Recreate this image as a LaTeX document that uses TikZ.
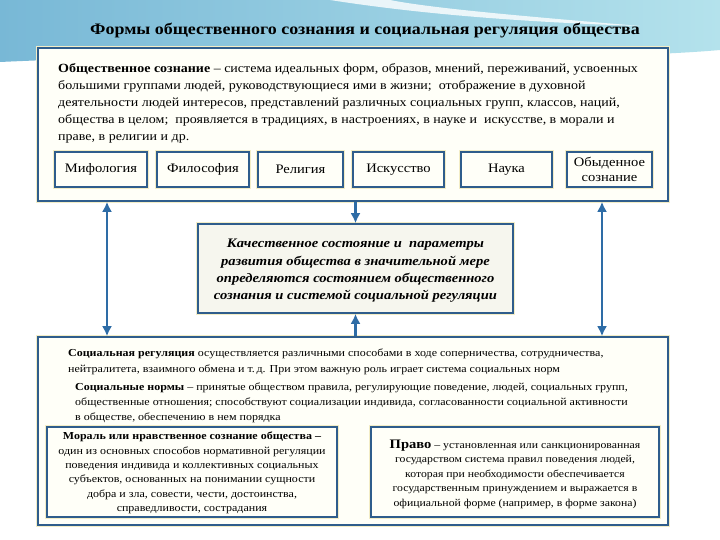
\documentclass[tikz,border=0pt]{standalone}
\usepackage{fontspec}
\setmainfont{Liberation Serif}[FakeStretch=1.12]
\usetikzlibrary{arrows.meta}
\definecolor{boxblue}{HTML}{2F5D8C}
\definecolor{arrblue}{HTML}{2E6CA6}
\definecolor{creamfill}{HTML}{FFFFF8}
\definecolor{midfill}{HTML}{F6F6EE}
\definecolor{glow}{HTML}{F3EDC6}
\definecolor{bgleft}{HTML}{78B8D6}
\definecolor{bgright}{HTML}{B4E2EC}
\begin{document}
\begin{tikzpicture}[x=1pt,y=-1pt,
  frame/.style={draw=boxblue, line width=1.6pt, fill=creamfill, preaction={draw=glow, line width=4pt}},
  bigbox/.style={frame, inner sep=0pt},
  smallbox/.style={frame, line width=2pt, minimum height=35pt, inner sep=0pt, font=\fontsize{13}{15}\selectfont, align=center},
  txt/.style={inner sep=0pt, align=left},
  ctxt/.style={inner sep=0pt, align=center},
  arr/.style={draw=arrblue, line width=2.4pt, -{Latex[length=10pt,width=10pt]}},
  darr/.style={draw=arrblue, line width=2.4pt, {Latex[length=10pt,width=10pt]}-{Latex[length=10pt,width=10pt]}},
]
\useasboundingbox (0,0) rectangle (720,540);
\fill[white] (0,0) rectangle (720,540);
\shade[left color=bgleft, right color=bgright] (0,0) -- (720,0) -- (720,50) .. controls (560,64) and (300,48) .. (0,62) -- cycle;
\fill[white, opacity=0.8] (330,0) .. controls (420,14) and (520,22) .. (640,26) .. controls (520,16) and (430,8) .. (390,0) -- cycle;

\node[font=\fontsize{16}{18}\selectfont\bfseries] (title) at (365,31) {Формы общественного сознания и социальная регуляция общества};

\node[bigbox, minimum width=630pt, minimum height=153pt] (topbox) at (353,124.5) {};
\node[txt, anchor=west, font=\fontsize{12.5}{17}\selectfont] (toptext) at (58,103) {\textbf{Общественное сознание} – система идеальных форм, образов, мнений, переживаний, усвоенных\\
большими группами людей, руководствующиеся ими в жизни;\ \ отображение в духовной\\
деятельности людей интересов, представлений различных социальных групп, классов, наций,\\
общества в целом;\ \ проявляется в традициях, в настроениях, в науке и\ \ искусстве, в морали и\\
праве, в религии и др.};

\node[smallbox, minimum width=92pt] (mif) at (101,169.5) {Мифология};
\node[smallbox, minimum width=92pt] (fil) at (203,169.5) {Философия};
\node[smallbox, minimum width=85pt] (rel) at (300.5,169.5) {Религия};
\node[smallbox, minimum width=91pt] (isk) at (398.5,169.5) {Искусство};
\node[smallbox, minimum width=91pt] (nau) at (506.5,169.5) {Наука};
\node[smallbox, minimum width=85pt] (obd) at (609.5,169.5) {Обыденное\\сознание};

\node[bigbox, fill=midfill, minimum width=315pt, minimum height=89pt] (midbox) at (355.5,268.5) {};
\node[ctxt, font=\fontsize{13}{17.4}\selectfont\bfseries\itshape] (midtext) at (355.5,271) {Качественное состояние и\ \ параметры\\
развития общества в значительной мере\\
определяются состоянием общественного\\
сознания и системой социальной регуляции};

\node[bigbox, minimum width=630pt, minimum height=188pt] (botbox) at (353,431) {};
\node[txt, anchor=west, font=\fontsize{10.7}{16}\selectfont] (regtext) at (68,362) {\textbf{Социальная регуляция} осуществляется различными способами в ходе соперничества, сотрудничества,\\
нейтралитета, взаимного обмена и т.\,д. При этом важную роль играет система социальных норм};
\node[txt, anchor=west, font=\fontsize{10.7}{15}\selectfont] (normtext) at (75,403) {\textbf{Социальные нормы} – принятые обществом правила, регулирующие поведение, людей, социальных групп,\\
общественные отношения; способствуют социализации индивида, согласованности социальной активности\\
в обществе, обеспечению в нем порядка};

\node[bigbox, minimum width=290pt, minimum height=90pt] (moral) at (192,472) {};
\node[ctxt, font=\fontsize{10.7}{14.4}\selectfont] (moraltext) at (192,473) {\textbf{Мораль или нравственное сознание общества –}\\
один из основных способов нормативной регуляции\\
поведения индивида и коллективных социальных\\
субъектов, основанных на понимании сущности\\
добра и зла, совести, чести, достоинства,\\
справедливости, сострадания};

\node[bigbox, minimum width=288pt, minimum height=90pt] (pravo) at (515,472) {};
\node[ctxt, font=\fontsize{10.5}{14.5}\selectfont] (pravotext) at (515,474) {{\fontsize{13}{14.5}\selectfont\textbf{Право}} – установленная или санкционированная\\
государством система правил поведения людей,\\
которая при необходимости обеспечивается\\
государственным принуждением и выражается в\\
официальной форме (например, в форме закона)};

\draw[arr] (midbox.north |- topbox.south) -- (midbox.north);
\draw[arr] (midbox.south |- botbox.north) -- (midbox.south);
\coordinate (la) at (107,0);
\coordinate (ra) at (602,0);
\draw[darr] (la |- topbox.south) -- (la |- botbox.north);
\draw[darr] (ra |- topbox.south) -- (ra |- botbox.north);
\end{tikzpicture}
\end{document}
